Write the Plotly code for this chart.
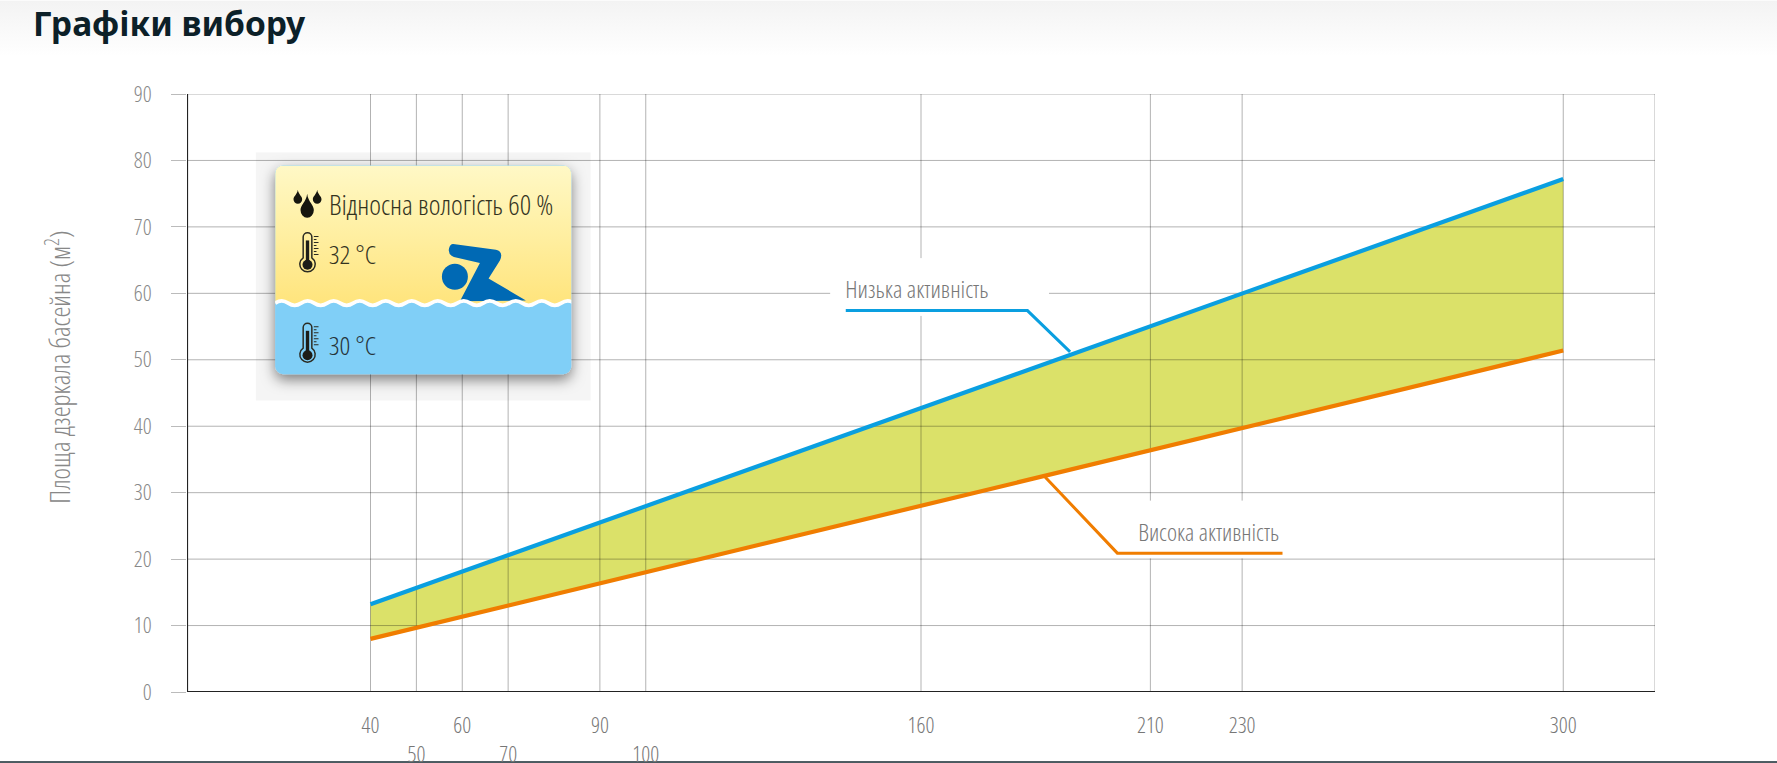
import base64
import plotly.graph_objects as go

# ---------- data ----------
x_ends = [40, 300]
low_activity = [13.2, 77.2]
high_activity = [8.0, 51.4]

x_labels = [40, 50, 60, 70, 90, 100, 160, 210, 230, 300]
x_label_row = [0, 1, 0, 1, 0, 1, 0, 0, 0, 0]
x_drop = [-2.2, -6.5, -2.2, -6.5, -2.2, -6.5, -2.2, -2.2, -2.2, -2.2]
y_ticks = [0, 10, 20, 30, 40, 50, 60, 70, 80, 90]

low_callout_x = [143.6, 183.2, 192.5]
low_callout_y = [57.4, 57.4, 51.2]
high_callout_x = [187.0, 202.8, 238.8]
high_callout_y = [32.4, 20.9, 20.9]

title_text = "Графіки вибору"
y_title = "Площа дзеркала басейна (м<sup>2</sup>)"
low_name = "Низька активність"
high_name = "Висока активність"
card_lines = ["Відносна вологість 60 %", "32 °C", "30 °C"]

# ---------- style / frame ----------
W, H = 1777, 763
L, R, T, B = 187.2, 1654.7, 94.3, 692.0
XMAX, YMAX = 320, 90
NARROW = "Open Sans"
GRID = "rgba(0,0,0,0.30)"
AXIS = "#222222"


def px2x(px):
    return (px - L) / (R - L)


def px2y(py):
    return (B - py) / (B - T)


def svg_uri(s):
    return "data:image/svg+xml;base64," + base64.b64encode(s.encode()).decode()


page_svg = f'''<svg xmlns="http://www.w3.org/2000/svg" width="{W}" height="{H}" viewBox="0 0 {W} {H}">
<defs><linearGradient id="g" x1="0" y1="0" x2="0" y2="1"><stop offset="0" stop-color="#f3f3f3"/><stop offset="1" stop-color="#ffffff"/></linearGradient></defs>
<rect width="{W}" height="{H}" fill="#ffffff"/>
<rect y="1" width="{W}" height="56" fill="url(#g)"/>
<rect y="761" width="{W}" height="2" fill="#4b5a60"/>
</svg>'''

wave = "M136 520"
px_ = 136
while px_ < 1024:
    wave += " q19.5 -13 39 0 t39 0"
    px_ += 78


def thermo(oy):
    ticks = "".join(
        f'<line x1="252" x2="{266 if i % 2 == 0 else 260}" y1="{oy + 320 + i * 9}" y2="{oy + 320 + i * 9}" stroke="#2b2b22" stroke-width="3"/>'
        for i in range(7)
    )
    return (
        f'<path d="M220 {oy + 322} a13 13 0 0 1 26 0 v62 a23 23 0 1 1 -26 0 z" fill="none" stroke="#2b2b22" stroke-width="4.5"/>'
        f'<rect x="228" y="{oy + 332}" width="10" height="70" fill="#1d1d18"/>'
        f'<circle cx="233" cy="{oy + 405}" r="15" fill="#1d1d18"/>' + ticks
    )


def drop(cx, top, w, h):
    return (
        f'<path d="M{cx} {top} C{cx + w * 0.15} {top + h * 0.35} {cx + w} {top + h * 0.45} {cx + w} {top + h * 0.68} '
        f'A{w} {h * 0.32} 0 0 1 {cx - w} {top + h * 0.68} C{cx - w} {top + h * 0.45} {cx - w * 0.15} {top + h * 0.35} {cx} {top} z" fill="#16160f"/>'
    )


card_svg = f'''<svg xmlns="http://www.w3.org/2000/svg" width="400" height="290" viewBox="0 0 1200 870">
<defs>
<linearGradient id="y" x1="0" y1="0" x2="0" y2="1"><stop offset="0" stop-color="#fff8c6"/><stop offset="0.35" stop-color="#fff2ac"/><stop offset="1" stop-color="#ffe47c"/></linearGradient>
<filter id="s" x="-20%" y="-20%" width="140%" height="150%"><feDropShadow dx="0" dy="16" stdDeviation="20" flood-color="#000" flood-opacity="0.5"/></filter>
<clipPath id="c"><rect x="136" y="107" width="888" height="626" rx="24"/></clipPath>
</defs>
<rect x="78" y="68" width="1004" height="744" fill="#000" fill-opacity="0.04"/>
<rect x="136" y="107" width="888" height="626" rx="24" fill="#80cff7" filter="url(#s)"/>
<g clip-path="url(#c)">
<path d="{wave} V107 H136 Z" fill="url(#y)"/>
<path d="M670 343 L798 360 Q822 366 810 392 L776 446 L888 512 L690 514 L750 400 L672 382 Q652 372 658 354 Q662 342 670 343 Z" fill="#0069b4"/>
<circle cx="675" cy="441" r="39" fill="#0069b4"/>
<path d="{wave}" fill="none" stroke="#ffffff" stroke-width="11"/>
</g>
{drop(204, 180, 13, 42)}{drop(232, 192, 20, 72)}{drop(262, 180, 13, 42)}
{thermo(0)}{thermo(271)}
</svg>'''

fig = go.Figure()

# band
fig.add_trace(go.Scatter(x=x_ends, y=high_activity, mode="lines", line=dict(width=0),
                         hoverinfo="skip", showlegend=False))
fig.add_trace(go.Scatter(x=x_ends, y=low_activity, mode="lines", line=dict(width=0), fill="tonexty",
                         fillcolor="#dbe169", hoverinfo="skip", showlegend=False))

# horizontal grid (the 60 line breaks round the callout label)
for v in y_ticks:
    xs = [0, 140.2, None, 187.9, XMAX] if v == 60 else [0, XMAX]
    ys = [v, v, None, v, v] if v == 60 else [v, v]
    fig.add_trace(go.Scatter(x=xs, y=ys, mode="lines", line=dict(color=GRID, width=1),
                             cliponaxis=False, hoverinfo="skip", showlegend=False, connectgaps=False))

# vertical grid, running below the axis as label stems
for v, d in zip(x_labels, x_drop):
    if v == 160:
        ys = [d, 56.6, None, 65.3, YMAX]
    elif v in (210, 230):
        ys = [d, 20.1, None, 28.8, YMAX]
    else:
        ys = [d, YMAX]
    xs = [v if y is not None else None for y in ys]
    fig.add_trace(go.Scatter(x=xs, y=ys, mode="lines", line=dict(color=GRID, width=1),
                             cliponaxis=False, hoverinfo="skip", showlegend=False, connectgaps=False))
fig.add_trace(go.Scatter(x=[XMAX, XMAX], y=[0, YMAX], mode="lines", line=dict(color=GRID, width=1),
                         hoverinfo="skip", showlegend=False, cliponaxis=False))

# main axes centred on zero
fig.add_trace(go.Scatter(x=[0, 0, XMAX], y=[YMAX, 0, 0], mode="lines", line=dict(color=AXIS, width=2.2),
                         hoverinfo="skip", showlegend=False, cliponaxis=False))

# series + callouts
fig.add_trace(go.Scatter(x=low_callout_x, y=low_callout_y, mode="lines",
                         line=dict(color="#0a9fe0", width=3), showlegend=False, hoverinfo="skip"))
fig.add_trace(go.Scatter(x=high_callout_x, y=high_callout_y, mode="lines",
                         line=dict(color="#f07d00", width=3), showlegend=False, hoverinfo="skip"))
fig.add_trace(go.Scatter(x=x_ends, y=low_activity, mode="lines", name=low_name,
                         line=dict(color="#0a9fe0", width=4.2), showlegend=False))
fig.add_trace(go.Scatter(x=x_ends, y=high_activity, mode="lines", name=high_name,
                         line=dict(color="#f07d00", width=4.2), showlegend=False))


def note(text, px, py, size, color, family=NARROW, weight=300, angle=0):
    fig.add_annotation(text=text, x=px2x(px), y=px2y(py), xref="paper", yref="paper", showarrow=False,
                       xanchor="center", yanchor="middle", borderpad=0, borderwidth=0, textangle=angle,
                       font=dict(family=family, size=size, color=color, weight=weight))


note(title_text, 170, 23, 33.5, "#0c2028", family="Noto Sans", weight=700)
note(y_title, 59, 367, 27.5, "#888888", angle=-90)
note(low_name, 917, 289, 24.4, "#777777")
note(high_name, 1208, 532, 24, "#777777")
note(card_lines[0], 441, 204, 28, "#33331f")
note(card_lines[1], 352.5, 254, 26.5, "#33331f")
note(card_lines[2], 353, 345, 26.5, "#26343a")

tick_text = [("<br>" if r else "") + str(v) for v, r in zip(x_labels, x_label_row)]

fig.update_layout(
    width=W, height=H, autosize=False,
    margin=dict(l=L, r=W - R, t=T, b=H - B, pad=0),
    paper_bgcolor="rgba(0,0,0,0)", plot_bgcolor="rgba(0,0,0,0)",
    showlegend=False,
    font=dict(family=NARROW, color="#999999"),
    xaxis=dict(range=[0, XMAX], showgrid=False, zeroline=False, tickmode="array",
               tickvals=x_labels, ticktext=tick_text, ticks="", ticklabelstandoff=18,
               tickfont=dict(family=NARROW, size=22, color="#777777", weight=300), tickangle=0,
               showline=False, automargin=False),
    yaxis=dict(range=[0, YMAX], showgrid=False, zeroline=False, tickmode="array",
               tickvals=y_ticks, ticks="outside", ticklen=15, tickcolor="#bbbbbb", tickwidth=1,
               ticklabelstandoff=15, tickfont=dict(family=NARROW, size=22, color="#888888", weight=300),
               showline=False, automargin=False),
    images=[
        dict(source=svg_uri(page_svg), xref="paper", yref="paper", x=px2x(0), y=px2y(0), sizex=W / (R - L),
             sizey=H / (B - T), sizing="stretch", xanchor="left", yanchor="top", layer="below"),
        dict(source=svg_uri(card_svg), xref="paper", yref="paper", x=px2x(230), y=px2y(130), sizex=400 / (R - L),
             sizey=290 / (B - T), sizing="stretch", xanchor="left", yanchor="top", layer="above"),
    ],
)

css = "svg text[style*='Open Sans']{font-stretch:condensed !important}"
fig.write_html("out.html", config={"displayModeBar": False},
               post_script=("document.body.style.margin='0';document.body.style.overflow='hidden';"
                            "var s=document.createElement('style');s.textContent=\"" + css + "\";"
                            "document.head.appendChild(s);"))
